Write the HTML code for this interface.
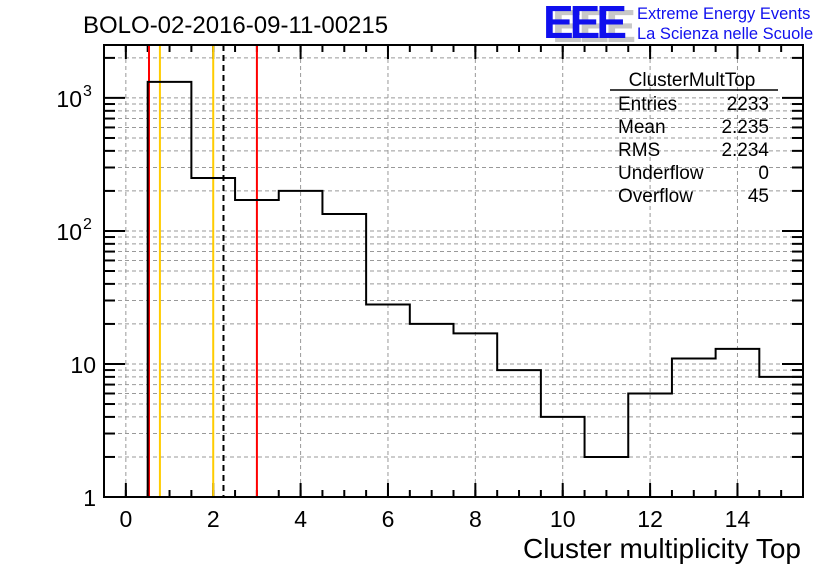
<!DOCTYPE html>
<html><head><meta charset="utf-8"><style>
html,body{margin:0;padding:0;background:#fff;}
svg{display:block;font-family:"Liberation Sans",sans-serif;}
</style></head><body>
<svg id="c" width="836" height="572" viewBox="0 0 836 572">
<text x="83" y="33" font-size="24">BOLO-02-2016-09-11-00215</text>
<g>
<text x="552" y="42" font-size="46" font-weight="bold" fill="#c8c8c8" letter-spacing="-4">EEE</text>
<text x="543" y="38" font-size="46" font-weight="bold" fill="#1010ee" letter-spacing="-4">EEE</text>
<text x="637" y="19" font-size="16.5" fill="#1010ee">Extreme Energy Events</text>
<text x="637" y="39" font-size="16.5" fill="#1010ee">La Scienza nelle Scuole</text>
</g>
<g id="grid"></g>
<g id="ticks"></g>
<g id="lines"></g>
<path id="hist" fill="none" stroke="#000" stroke-width="2"/>
<rect x="104" y="45" width="699" height="452" fill="none" stroke="#000" stroke-width="2"/>
<g font-size="19">
<text x="692" y="86" text-anchor="middle">ClusterMultTop</text>
<line x1="610" y1="90" x2="778" y2="90" stroke="#000" stroke-width="1.5"/>
<text x="618" y="110">Entries</text><text x="769" y="110" text-anchor="end">2233</text>
<text x="618" y="133">Mean</text><text x="769" y="133" text-anchor="end">2.235</text>
<text x="618" y="156">RMS</text><text x="769" y="156" text-anchor="end">2.234</text>
<text x="618" y="179">Underflow</text><text x="769" y="179" text-anchor="end">0</text>
<text x="618" y="202">Overflow</text><text x="769" y="202" text-anchor="end">45</text>
</g>
<text x="801" y="558" font-size="28" text-anchor="end">Cluster multiplicity Top</text>
</svg>
<script>
const binCenters=[0,1,2,3,4,5,6,7,8,9,10,11,12,13,14,15];
const binCounts=[0,1320,250,171,200,134,28,20,17,9,4,2,6,11,13,8];
const xTickLabels=[0,2,4,6,8,10,12,14];
const yTickValues=[1,10,100,1000];
const yTickLabels=["1","10","10^2","10^3"];
const markerValues=[0.53,3.0,0.78,2.0,2.235];
const markerColors=["#ff0000","#ff0000","#ffcc00","#ffcc00","#000"];
const L=104,R=803,T=45,B=497,XMIN=-0.5,XMAX=15.5,YMIN=0,YMAX=Math.log10(2500);
const sx=v=>L+(v-XMIN)/(XMAX-XMIN)*(R-L);
const sy=v=>B-(Math.log10(Math.max(v,1))-YMIN)/(YMAX-YMIN)*(B-T);
const NS="http://www.w3.org/2000/svg";
function mk(p,tag,a){const e=document.createElementNS(NS,tag);for(const k in a)e.setAttribute(k,a[k]);p.appendChild(e);return e;}
const grid=document.getElementById('grid'),ticks=document.getElementById('ticks'),lines=document.getElementById('lines');
xTickLabels.forEach(v=>{
 const x=sx(v);
 const g=mk(grid,'line',{x1:x,x2:x,y1:T,y2:B,stroke:'#999','stroke-dasharray':'4,3','stroke-width':1});
 
 
 mk(ticks,'line',{x1:x,x2:x,y1:B,y2:B-14,stroke:'#000','stroke-width':2});
 mk(ticks,'line',{x1:x,x2:x,y1:T,y2:T+14,stroke:'#000','stroke-width':2});
 const t=mk(ticks,'text',{x:x,y:527,'font-size':23,'text-anchor':'middle'});t.textContent=v;
 
 
});
for(let v=-0.5;v<=15.5;v+=0.5){const x=sx(v);
 mk(ticks,'line',{x1:x,x2:x,y1:B,y2:B-7,stroke:'#000','stroke-width':2});
 mk(ticks,'line',{x1:x,x2:x,y1:T,y2:T+7,stroke:'#000','stroke-width':2});}
for(let d=1;d<=1000;d*=10){for(let m=1;m<=9;m++){const v=d*m;if(v>2500)break;const y=sy(v);
 if(v>1){const g=mk(grid,'line',{x1:L,x2:R,y1:y,y2:y,stroke:'#999','stroke-dasharray':'4,3','stroke-width':1});
 
 }
 const len=m===1?21:11;
 mk(ticks,'line',{x1:L,x2:L+len,y1:y,y2:y,stroke:'#000','stroke-width':2});
 mk(ticks,'line',{x1:R,x2:R-len,y1:y,y2:y,stroke:'#000','stroke-width':2});}}
yTickValues.forEach((v,i)=>{const y=sy(v);
 const lab=yTickLabels[i];
 const t=mk(ticks,'text',{x:lab.includes('^')?82:96,y:y+9,'font-size':23,'text-anchor':'end'});
 if(lab.includes('^')){const p=lab.split('^');t.textContent=p[0];
  const s=mk(ticks,'text',{x:83,y:y-2,'font-size':16});s.textContent=p[1];}
 else t.textContent=lab;
 
 });
markerValues.forEach((v,i)=>{const x=sx(v);
 const a={x1:x,x2:x,y1:T,y2:B,stroke:markerColors[i],'stroke-width':2};
 if(i===4)a['stroke-dasharray']='6,4';
 const l=mk(lines,'line',a);
 
 });
let d='',prev=null;
binCenters.forEach((c,i)=>{const x0=sx(Math.max(c-0.5,XMIN)),x1=sx(Math.min(c+0.5,XMAX));const y=binCounts[i]>0?sy(binCounts[i]):B;
 if(prev===null)d+=`M${x0},${y}`;else d+=`L${x0},${y}`;d+=`L${x1},${y}`;prev=y;});
document.getElementById('hist').setAttribute('d',d);
</script>
</body></html>
